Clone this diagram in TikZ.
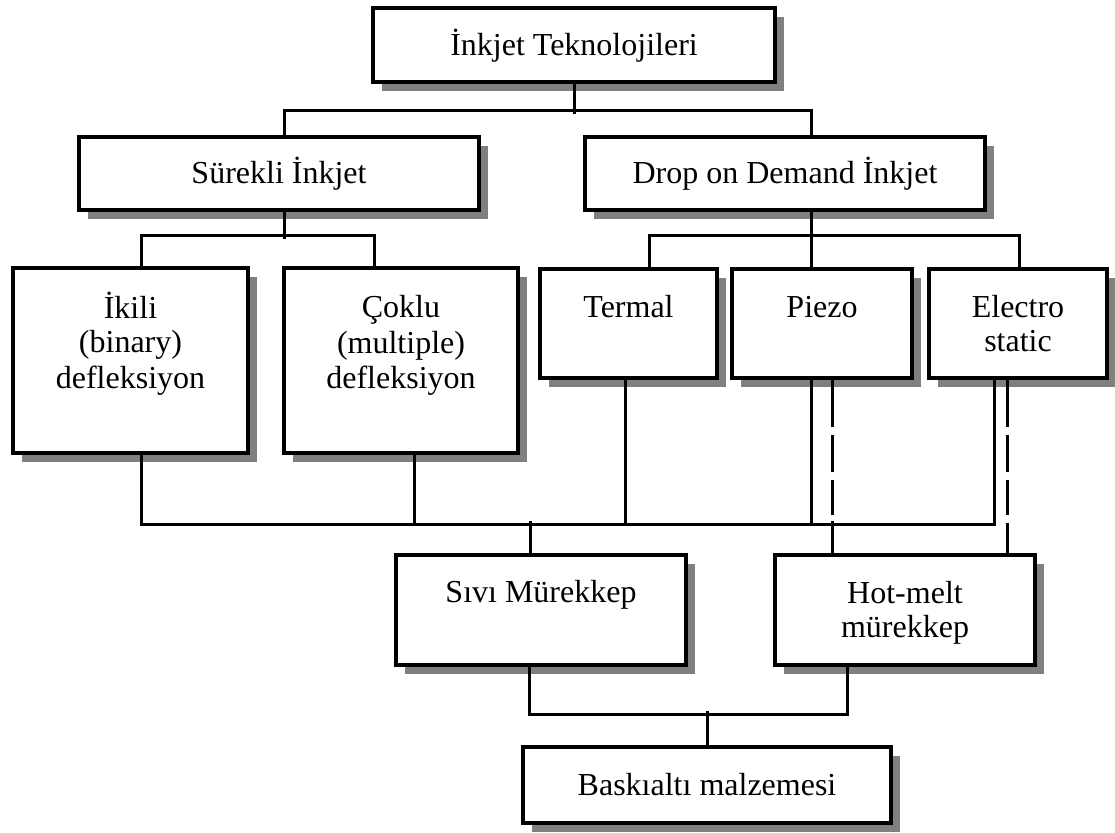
\documentclass[tikz,border=0pt]{standalone}
\usepackage{fontspec}
\setmainfont{Liberation Serif}
\usetikzlibrary{shadows,calc}
\newcommand{\mystrut}{\rule[-6.5pt]{0pt}{34pt}}
\begin{document}
\begin{tikzpicture}[x=1pt,y=-1pt,
  box/.style={draw, line width=3.3pt, fill=white, inner sep=0pt, align=center,
    font=\fontsize{32}{34}\selectfont,
    drop shadow={shadow xshift=9pt, shadow yshift=-9pt, fill=black!50, opacity=1}},
  conn/.style={line width=3pt},
  dconn/.style={line width=3pt, dash pattern=on 47pt off 8pt on 37pt off 8pt on 35pt off 8pt on 40pt off 8pt}]
\useasboundingbox (0,0) rectangle (1115,832);

% boxes
\node[box, minimum width=402pt, minimum height=74pt] (top) at (574,45) {\mystrut İnkjet Teknolojileri};
\node[box, minimum width=400pt, minimum height=73pt] (sur) at (279,173.5) {\mystrut Sürekli İnkjet};
\node[box, minimum width=400pt, minimum height=73pt] (dod) at (785,173.5) {\mystrut Drop on Demand İnkjet};
\node[box, minimum width=235pt, minimum height=185pt] (iki) at (130.5,360.5) {\mystrut İkili\\\mystrut (binary)\\\mystrut defleksiyon\\\mystrut};
\node[box, minimum width=234pt, minimum height=185pt] (cok) at (401,360.5) {\mystrut Çoklu\\\mystrut (multiple)\\\mystrut defleksiyon\\\mystrut};
\node[box, minimum width=177pt, minimum height=109pt] (ter) at (628.5,323.5) {\mystrut Termal\\\mystrut};
\node[box, minimum width=180pt, minimum height=109pt] (pie) at (822,323.5) {\mystrut Piezo\\\mystrut};
\node[box, minimum width=178pt, minimum height=109pt] (ele) at (1018,323.5) {\mystrut Electro\\\mystrut static};
\node[box, minimum width=290pt, minimum height=110pt] (siv) at (541,610) {\mystrut Sıvı Mürekkep\\\mystrut};
\node[box, minimum width=260pt, minimum height=110pt] (hot) at (905,610) {\mystrut Hot-melt\\\mystrut mürekkep};
\node[box, minimum width=368pt, minimum height=76pt] (bas) at (707,785) {\mystrut Baskıaltı malzemesi};

% level 1 -> 2
\draw[conn] (top.south) -- ++(0,30);
\draw[conn] ($(sur.north)+(5,0)$) -- ++(0,-25) -| ($(dod.north)+(26,0)$);

% level 2 -> 3
\draw[conn] ($(sur.south)+(5,0)$) -- ++(0,27);
\draw[conn] ($(iki.north)+(10.5,0)$) -- ++(0,-31) -| ($(cok.north)+(-27,0)$);
\draw[conn] ($(dod.south)+(26,0)$) -- ++(0,27);
\draw[conn] ($(ter.north)+(20.5,0)$) -- ++(0,-32) -| ($(ele.north)+(1,0)$);
\draw[conn] ($(pie.north)+(-11,0)$) -- ++(0,-32);

% level 3 -> inks
\draw[conn] ($(iki.south)+(10.5,0)$) -- ++(0,70) -| ($(ele.south)+(-24,0)$);
\draw[conn] ($(cok.south)+(13,0)$) -- ++(0,70);
\draw[conn] ($(ter.south)+(-3.5,0)$) -- ++(0,145);
\draw[conn] ($(pie.south)+(-11,0)$) -- ++(0,145);
\draw[dconn] ($(pie.south)+(10,0)$) -- ++(0,145);
\draw[conn] ($(hot.north)+(-73,0)$) -- ++(0,-32);
\draw[conn] ($(siv.north)+(-11,0)$) -- ++(0,-32);
\draw[dconn] ($(ele.south)+(-11,0)$) -- ($(hot.north)+(102,0)$);

% inks -> substrate
\draw[conn] ($(siv.south)+(-12,0)$) -- ++(0,48) -| ($(hot.south)+(-58,0)$);
\draw[conn] (bas.north) -- ++(0,-34);
\end{tikzpicture}
\end{document}
